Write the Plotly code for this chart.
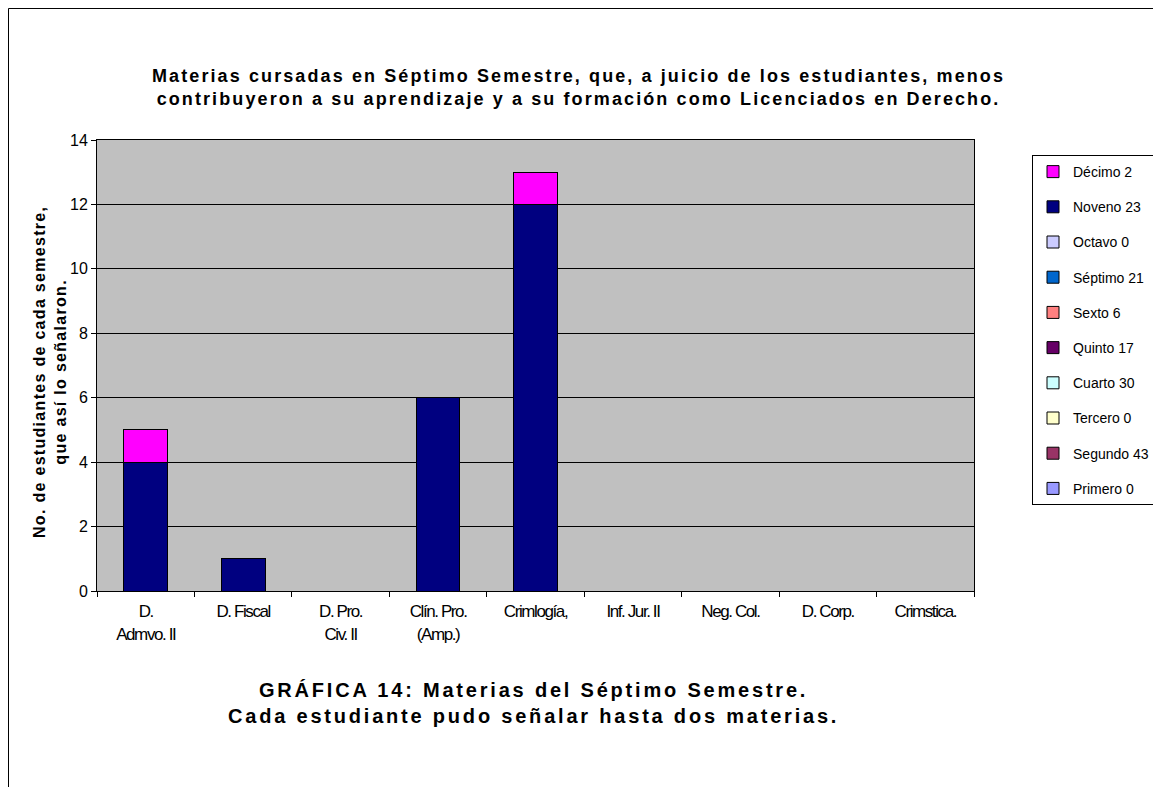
import plotly.graph_objects as go

materias = ["D.<br>Admvo. II", "D. Fiscal", "D. Pro.<br>Civ. II", "Clín. Pro.<br>(Amp.)",
            "Crimlogía,", "Inf. Jur. II", "Neg. Col.", "D. Corp.", "Crimstica."]

semestres = ["Primero 0", "Segundo 43", "Tercero 0", "Cuarto 30", "Quinto 17",
             "Sexto 6", "Séptimo 21", "Octavo 0", "Noveno 23", "Décimo 2"]
colores = ["#9999FF", "#993366", "#FFFFCC", "#CCFFFF", "#660066",
           "#FF8080", "#0066CC", "#CCCCFF", "#000080", "#FF00FF"]

primero = [0, 0, 0, 0, 0, 0, 0, 0, 0]
segundo = [0, 0, 0, 0, 0, 0, 0, 0, 0]
tercero = [0, 0, 0, 0, 0, 0, 0, 0, 0]
cuarto = [0, 0, 0, 0, 0, 0, 0, 0, 0]
quinto = [0, 0, 0, 0, 0, 0, 0, 0, 0]
sexto = [0, 0, 0, 0, 0, 0, 0, 0, 0]
septimo = [0, 0, 0, 0, 0, 0, 0, 0, 0]
octavo = [0, 0, 0, 0, 0, 0, 0, 0, 0]
noveno = [4, 1, 0, 6, 12, 0, 0, 0, 0]
decimo = [1, 0, 0, 0, 1, 0, 0, 0, 0]

valores = [primero, segundo, tercero, cuarto, quinto, sexto, septimo, octavo, noveno, decimo]

fig = go.Figure()
for i, (nombre, col, vals) in enumerate(zip(semestres, colores, valores)):
    fig.add_trace(go.Bar(
        x=materias, y=vals, name=nombre, legendgroup=nombre,
        legendrank=1000 - i,
        marker=dict(color=col, line=dict(color="black", width=1)),
    ))

font = "Liberation Sans, Arial, sans-serif"


def espaciado(txt, px):
    return "<span style='letter-spacing:%spx'>%s</span>" % (px, txt)


titulo = ("<b>" + espaciado("Materias cursadas en Séptimo Semestre, que, a juicio de los estudiantes, menos", 2.1)
          + "<br>" + espaciado("contribuyeron a su aprendizaje y a su formación como Licenciados en Derecho.", 2.1)
          + "</b>")
pie = ("<b>" + espaciado("GRÁFICA 14: Materias del Séptimo Semestre.", 2.8)
       + "<br>" + espaciado("Cada estudiante pudo señalar hasta dos materias.", 2.8) + "</b>")
ytit = ("<b>" + espaciado("No. de estudiantes de cada semestre,", 1.3)
        + "<br>" + espaciado("que así lo señalaron.", 1.3) + "</b>")

# etiquetas comprimidas, como en el original
etiquetas = [espaciado(m, -1.4) for m in materias]

fig.update_layout(
    width=1161, height=787,
    barmode="stack", bargap=0.55,
    paper_bgcolor="white", plot_bgcolor="#C0C0C0",
    margin=dict(l=89, r=195, t=132, b=204),
    font=dict(family=font, size=14, color="black"),
    showlegend=True,
    legend=dict(xref="container", yref="container", x=0.882, y=0.8132,
                xanchor="left", yanchor="top",
                traceorder="grouped", tracegroupgap=14,
                bgcolor="white", bordercolor="black", borderwidth=1,
                font=dict(size=14)),
    xaxis=dict(tickson="boundaries", ticks="outside", ticklen=5, tickcolor="black",
               showline=True, linecolor="black", mirror=True, tickangle=0,
               tickmode="array", tickvals=materias, ticktext=etiquetas,
               ticklabelstandoff=5, tickfont=dict(size=17)),
    yaxis=dict(range=[0, 14], dtick=2, ticks="outside", ticklen=5, tickcolor="black",
               showgrid=True, gridcolor="black", gridwidth=1,
               showline=True, linecolor="black", mirror=True, zeroline=False,
               tickfont=dict(size=16)),
    annotations=[
        dict(text=titulo, xref="paper", yref="paper", x=0.5485, y=1.1153, showarrow=False,
             font=dict(size=18), xanchor="center", yanchor="middle"),
        dict(text=pie, xref="paper", yref="paper", x=0.498, y=-0.248, showarrow=False,
             font=dict(size=20), xanchor="center", yanchor="middle"),
        dict(text=ytit, xref="paper", yref="paper", x=-0.0536, y=0.4856, showarrow=False,
             textangle=-90, font=dict(size=16), xanchor="center", yanchor="middle"),
    ],
    shapes=[dict(type="rect", xref="paper", yref="paper",
                 x0=-0.1009, x1=1.2121, y0=-0.459, y1=1.2916,
                 line=dict(color="black", width=1))],
)

fig.write_html("out.html")
